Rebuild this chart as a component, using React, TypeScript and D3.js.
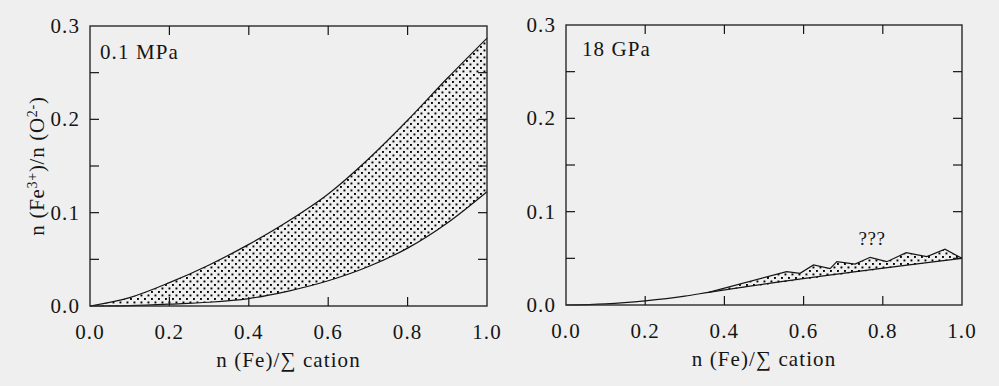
import React from "react";
import * as d3 from "d3";

// ---- data ----
const xTickValues = [0, 0.2, 0.4, 0.6, 0.8, 1.0];
const yTickValues = [0, 0.1, 0.2, 0.3];
const yMinorTicks = [0.05, 0.1, 0.15, 0.2, 0.25];
const xInnerTicks = [0.2, 0.4, 0.6, 0.8];

// 0.1 MPa panel
const lpX = [0, 0.1, 0.2, 0.3, 0.4, 0.5, 0.6, 0.7, 0.8, 0.9, 1.0];
const lpUpper = [0, 0.009, 0.025, 0.044, 0.066, 0.091, 0.120, 0.157, 0.199, 0.244, 0.287];
const lpLower = [0, 0.0005, 0.002, 0.004, 0.008, 0.016, 0.027, 0.042, 0.062, 0.089, 0.1225];

// 18 GPa panel
const rpLowerX = [0, 0.1, 0.2, 0.3, 0.36, 1.0];
const rpLowerY = [0, 0.0012, 0.0045, 0.0095, 0.0136, 0.050];
const rpUpperX = [0.36, 0.557, 0.591, 0.625, 0.667, 0.684, 0.73, 0.768, 0.81, 0.859, 0.911, 0.957, 1.0];
const rpUpperY = [0.0136, 0.0357, 0.034, 0.0429, 0.039, 0.0464, 0.0439, 0.0511, 0.0464, 0.056, 0.0518, 0.0597, 0.050];

const FONT = "'Liberation Serif'";
const INK = "#151515";
const BG = "#efefef";
const FS = 21;
const LS = 1.1;

type Panel = { x0: number; x1: number; y0: number; y1: number };

function Frame({ p, label, lx, ly }: { p: Panel; label: string; lx: number; ly: number }) {
  const x = d3.scaleLinear().domain([0, 1]).range([p.x0, p.x1]);
  const y = d3.scaleLinear().domain([0, 0.3]).range([p.y0, p.y1]);
  const t = 9;
  return (
    <g>
      <rect x={p.x0} y={p.y1} width={p.x1 - p.x0} height={p.y0 - p.y1} fill="none" stroke="#2a2a2a" strokeWidth={1.4} />
      {yMinorTicks.map((v) => (
        <g key={"y" + v}>
          <line x1={p.x0} x2={p.x0 + t} y1={y(v)} y2={y(v)} stroke={INK} strokeWidth={1.2} />
          <line x1={p.x1} x2={p.x1 - t} y1={y(v)} y2={y(v)} stroke={INK} strokeWidth={1.2} />
        </g>
      ))}
      {xInnerTicks.map((v) => (
        <g key={"x" + v}>
          <line x1={x(v)} x2={x(v)} y1={p.y0} y2={p.y0 - t} stroke={INK} strokeWidth={1.2} />
          <line x1={x(v)} x2={x(v)} y1={p.y1} y2={p.y1 + t} stroke={INK} strokeWidth={1.2} />
        </g>
      ))}
      {yTickValues.map((v) => (
        <text key={"yl" + v} x={p.x0 - 10} y={y(v)} dy="0.34em" textAnchor="end" fontSize={FS} letterSpacing={LS} fill={INK} fontFamily={FONT}>
          {v.toFixed(1)}
        </text>
      ))}
      {xTickValues.map((v) => (
        <text key={"xl" + v} x={x(v)} y={p.y0 + 33} textAnchor="middle" fontSize={FS} letterSpacing={LS} fill={INK} fontFamily={FONT}>
          {v.toFixed(1)}
        </text>
      ))}
      <text x={(p.x0 + p.x1) / 2} y={p.y0 + 61} textAnchor="middle" fontSize={FS} letterSpacing={LS} fill={INK} fontFamily={FONT}>
        n (Fe)/∑ cation
      </text>
      <text x={lx} y={ly} fontSize={FS} letterSpacing={LS} fill={INK} fontFamily={FONT}>
        {label}
      </text>
    </g>
  );
}

export default function App() {
  const L: Panel = { x0: 90, x1: 487, y0: 306, y1: 26 };
  const R: Panel = { x0: 566, x1: 962, y0: 305, y1: 25 };

  const xL = d3.scaleLinear().domain([0, 1]).range([L.x0, L.x1]);
  const yL = d3.scaleLinear().domain([0, 0.3]).range([L.y0, L.y1]);
  const xR = d3.scaleLinear().domain([0, 1]).range([R.x0, R.x1]);
  const yR = d3.scaleLinear().domain([0, 0.3]).range([R.y0, R.y1]);

  const idx = lpX.map((_, i) => i);
  const areaL = d3
    .area<number>()
    .x((i) => xL(lpX[i]))
    .y0((i) => yL(lpLower[i]))
    .y1((i) => yL(lpUpper[i]))
    .curve(d3.curveMonotoneX);
  const upperL = d3.line<number>().x((i) => xL(lpX[i])).y((i) => yL(lpUpper[i])).curve(d3.curveMonotoneX);
  const lowerL = d3.line<number>().x((i) => xL(lpX[i])).y((i) => yL(lpLower[i])).curve(d3.curveMonotoneX);

  const lowerRPts: [number, number][] = rpLowerX.map((v, i) => [xR(v), yR(rpLowerY[i])]);
  const upperRPts: [number, number][] = rpUpperX.map((v, i) => [xR(v), yR(rpUpperY[i])]);
  const lowerRLine = d3.line().curve(d3.curveMonotoneX)(lowerRPts) || "";
  const upperRLine = d3.line()(upperRPts) || "";
  const nR = rpLowerX.length;
  const polyR: [number, number][] = [...upperRPts, lowerRPts[nR - 1], lowerRPts[nR - 2]];
  const areaR = (d3.line()(polyR) || "") + "Z";

  return (
    <svg width={999} height={386} style={{ position: "absolute", left: 0, top: 0, background: BG }}>
      <defs>
        <pattern id="dots" width={7} height={7} patternUnits="userSpaceOnUse">
          <rect x={0.5} y={0.5} width={1.9} height={1.9} fill="#000" />
          <rect x={4} y={4} width={1.9} height={1.9} fill="#000" />
        </pattern>
      </defs>
      <rect x={0} y={0} width={999} height={386} fill={BG} />

      {/* left panel */}
      <path d={areaL(idx) || ""} fill="url(#dots)" stroke="none" />
      <path d={upperL(idx) || ""} fill="none" stroke={INK} strokeWidth={1.2} />
      <path d={lowerL(idx) || ""} fill="none" stroke={INK} strokeWidth={1.2} />
      <Frame p={L} label="0.1 MPa" lx={100} ly={59} />
      <text
        transform={`translate(44,${(L.y0 + L.y1) / 2}) rotate(-90)`}
        textAnchor="middle"
        fontSize={FS}
        letterSpacing={0.7}
        fill={INK}
        fontFamily={FONT}
      >
        n (Fe
        <tspan fontSize={14} dy={-7}>3+</tspan>
        <tspan dy={7}>)/n (O</tspan>
        <tspan fontSize={14} dy={-7}>2-</tspan>
        <tspan dy={7}>)</tspan>
      </text>

      {/* right panel */}
      <path d={areaR} fill="url(#dots)" stroke="none" />
      <path d={lowerRLine} fill="none" stroke={INK} strokeWidth={1.2} />
      <path d={upperRLine} fill="none" stroke={INK} strokeWidth={1.2} />
      <Frame p={R} label="18 GPa" lx={582} ly={56} />
      <text x={872} y={245} textAnchor="middle" fontSize={19} letterSpacing={0.5} fill={INK} fontFamily={FONT}>
        ???
      </text>
    </svg>
  );
}
